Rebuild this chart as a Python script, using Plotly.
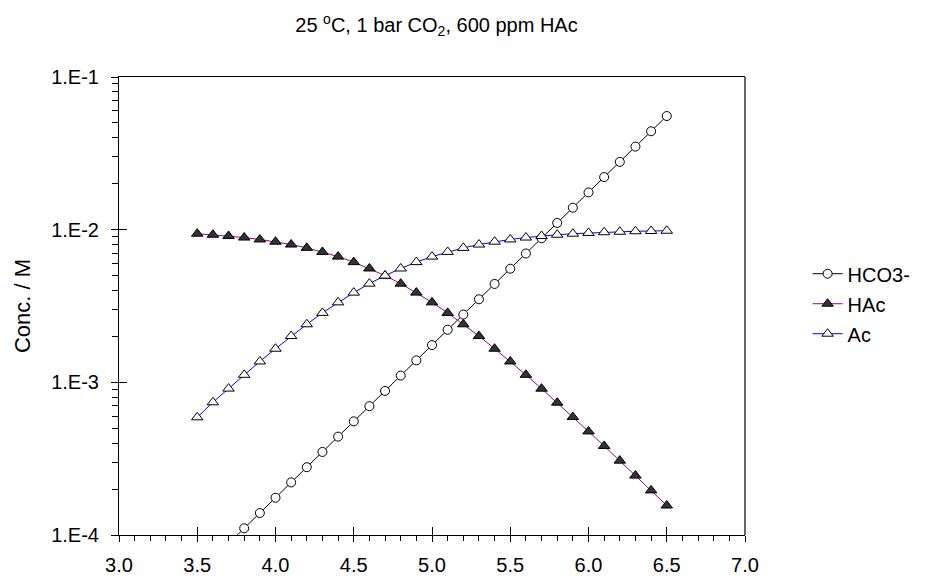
import plotly.graph_objects as go

# pH grid and species concentrations (mol/L)
ph = [3.5, 3.6, 3.7, 3.8, 3.9, 4.0, 4.1, 4.2, 4.3, 4.4, 4.5, 4.6, 4.7, 4.8, 4.9, 5.0,
      5.1, 5.2, 5.3, 5.4, 5.5, 5.6, 5.7, 5.8, 5.9, 6.0, 6.1, 6.2, 6.3, 6.4, 6.5]

hco3 = [5.55e-5, 6.98e-5, 8.79e-5, 1.107e-4, 1.393e-4, 1.754e-4, 2.21e-4, 2.78e-4,
        3.50e-4, 4.41e-4, 5.55e-4, 6.98e-4, 8.79e-4, 1.107e-3, 1.393e-3, 1.754e-3,
        2.21e-3, 2.78e-3, 3.50e-3, 4.41e-3, 5.55e-3, 6.98e-3, 8.79e-3, 1.107e-2,
        1.393e-2, 1.754e-2, 2.21e-2, 2.78e-2, 3.50e-2, 4.41e-2, 5.55e-2]

hac = [9.41e-3, 9.26e-3, 9.09e-3, 8.88e-3, 8.63e-3, 8.34e-3, 7.99e-3, 7.60e-3,
       7.15e-3, 6.66e-3, 6.13e-3, 5.57e-3, 5.00e-3, 4.43e-3, 3.87e-3, 3.34e-3,
       2.85e-3, 2.40e-3, 2.01e-3, 1.66e-3, 1.37e-3, 1.12e-3, 9.09e-4, 7.36e-4,
       5.93e-4, 4.77e-4, 3.83e-4, 3.07e-4, 2.45e-4, 1.96e-4, 1.56e-4]

ac = [5.9e-4, 7.4e-4, 9.1e-4, 1.12e-3, 1.37e-3, 1.66e-3, 2.01e-3, 2.40e-3,
      2.85e-3, 3.34e-3, 3.87e-3, 4.43e-3, 5.00e-3, 5.57e-3, 6.13e-3, 6.66e-3,
      7.15e-3, 7.60e-3, 7.99e-3, 8.34e-3, 8.63e-3, 8.88e-3, 9.09e-3, 9.26e-3,
      9.41e-3, 9.52e-3, 9.62e-3, 9.69e-3, 9.76e-3, 9.80e-3, 9.84e-3]

x_major = [3.0, 3.5, 4.0, 4.5, 5.0, 5.5, 6.0, 6.5, 7.0]
x_labels = ["3.0", "3.5", "4.0", "4.5", "5.0", "5.5", "6.0", "6.5", "7.0"]
x_minor = [round(3.0 + 0.1 * i, 1) for i in range(41)]

y_major = [1e-4, 1e-3, 1e-2, 1e-1]
y_labels = ["1.E-4", "1.E-3", "1.E-2", "1.E-1"]
y_minor = [m * d for d in (1e-4, 1e-3, 1e-2) for m in range(2, 10)]

FONT = "Liberation Sans, Arial, sans-serif"

fig = go.Figure()

fig.add_trace(go.Scatter(
    x=ph, y=hco3, name="HCO3-", mode="lines+markers", legendgroup="a",
    line=dict(color="black", width=1),
    marker=dict(symbol="circle", size=9, color="white", line=dict(color="black", width=1)),
))
fig.add_trace(go.Scatter(
    x=ph, y=hac, name="HAc", mode="lines+markers", legendgroup="b",
    line=dict(color="#990099", width=1),
    marker=dict(symbol="triangle-up", size=10, color="#333333", line=dict(color="black", width=1)),
))
fig.add_trace(go.Scatter(
    x=ph, y=ac, name="Ac", mode="lines+markers", legendgroup="c",
    line=dict(color="#0000ff", width=1),
    marker=dict(symbol="triangle-up", size=10, color="white", line=dict(color="black", width=1)),
))
# empty trace that carries the overlay axes used for the inward half of major ticks
fig.add_trace(go.Scatter(x=[None], y=[None], xaxis="x2", yaxis="y2",
                         showlegend=False, hoverinfo="skip"))

fig.update_layout(
    width=928, height=588,
    margin=dict(l=119, r=174, t=77, b=46),
    paper_bgcolor="white", plot_bgcolor="white",
    font=dict(family=FONT, size=20, color="black"),
    title=dict(text="25 <sup>o</sup>C, 1 bar CO<sub>2</sub>, 600 ppm HAc",
               x=(119 + 317.5) / 928, xanchor="center", y=1 - 25 / 588, yanchor="middle",
               font=dict(family=FONT, size=20)),
    showlegend=True,
    legend=dict(x=1.10, y=0.505, xanchor="left", yanchor="middle",
                font=dict(family=FONT, size=20), bgcolor="rgba(0,0,0,0)",
                tracegroupgap=1, itemsizing="trace"),
    xaxis=dict(
        range=[3.0, 7.0], tickmode="array", tickvals=x_major, ticktext=x_labels,
        ticks="outside", ticklen=6, tickwidth=1, tickcolor="black",
        ticklabelstandoff=6,
        showline=True, linecolor="black", linewidth=1, mirror=True,
        showgrid=False, zeroline=False,
        tickfont=dict(family=FONT, size=20),
        minor=dict(tickmode="array", tickvals=x_minor, ticks="outside",
                   ticklen=5, tickwidth=1, tickcolor="black", showgrid=False),
    ),
    yaxis=dict(
        type="log", range=[-4, -1], tickmode="array", tickvals=y_major, ticktext=y_labels,
        ticks="outside", ticklen=7, tickwidth=1, tickcolor="black",
        ticklabelstandoff=8,
        showline=True, linecolor="black", linewidth=1, mirror=False,
        showgrid=False, zeroline=False,
        tickfont=dict(family=FONT, size=20),
        title=dict(text="Conc. / M", font=dict(family=FONT, size=22), standoff=14),
        minor=dict(tickmode="array", tickvals=y_minor, ticks="outside",
                   ticklen=6, tickwidth=1, tickcolor="black", showgrid=False),
    ),
    xaxis2=dict(
        overlaying="x", anchor="y2", range=[3.0, 7.0], tickmode="array", tickvals=x_major,
        ticks="inside", ticklen=8, tickwidth=1, tickcolor="black",
        showticklabels=False, showline=False, showgrid=False, zeroline=False,
    ),
    yaxis2=dict(
        overlaying="y", anchor="x2", type="log", range=[-4, -1], tickmode="array",
        tickvals=y_major, ticks="inside", ticklen=8, tickwidth=1, tickcolor="black",
        showticklabels=False, showline=False, showgrid=False, zeroline=False,
    ),
    shapes=[dict(type="line", xref="paper", yref="paper", x0=1, x1=1, y0=0, y1=1,
                 line=dict(color="#666666", width=2))],
)

fig.write_html("out.html")
